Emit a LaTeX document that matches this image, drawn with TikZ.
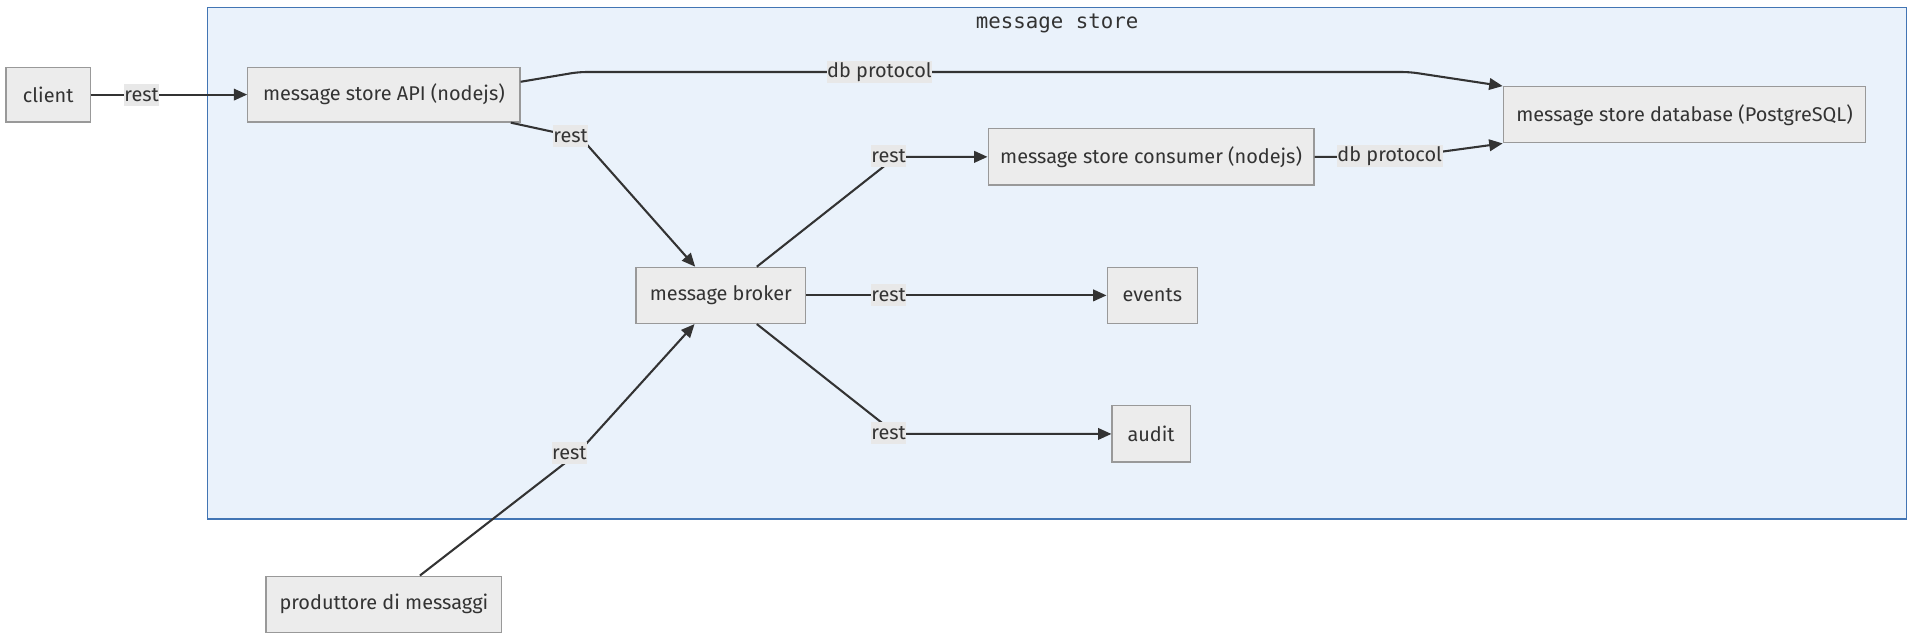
\documentclass[tikz,border=0pt]{standalone}
\usepackage{fontspec}
\setmainfont{Fira Sans}
\newfontfamily\monofont{DejaVu Sans Mono}
\usetikzlibrary{arrows.meta}
\definecolor{nodefill}{RGB}{236,236,236}
\definecolor{nodeline}{RGB}{153,153,153}
\definecolor{clusterfill}{RGB}{234,242,251}
\definecolor{clusterline}{RGB}{66,117,180}
\definecolor{edgecol}{RGB}{51,51,51}
\definecolor{labelfill}{RGB}{232,232,232}
\definecolor{textcol}{RGB}{51,51,51}
\tikzset{
  boxnode/.style={draw=nodeline, fill=nodefill, line width=1pt, text=textcol,
    font=\fontsize{16.3}{19}\selectfont, inner sep=0pt, minimum height=46pt},
  elabel/.style={fill=labelfill, text=textcol, font=\fontsize{16.3}{19}\selectfont,
    inner xsep=0.5pt, inner ysep=0pt, minimum height=18pt},
  edge/.style={draw=edgecol, line width=1.7pt, rounded corners=6pt,
    -{Triangle[length=11pt,width=9.5pt]}},
  clusterbox/.style={draw=clusterline, fill=clusterfill, line width=1.2pt},
}
\begin{document}
\begin{tikzpicture}[x=1pt,y=-1pt]
\useasboundingbox (0,0) rectangle (1568,524);
% cluster
\draw[clusterbox] (170,6) rectangle (1562,425);
\node[text=textcol, font=\monofont\fontsize{17}{20}\selectfont] (title) at (866,19.5) {message store};
% nodes
\node[boxnode, minimum width=69pt, minimum height=45pt] (client) at (39.5,77.5) {client};
\node[boxnode, minimum width=223pt, minimum height=45pt] (api) at (314.5,77.5) {message store API (nodejs)};
\node[boxnode, minimum width=297pt] (db) at (1380,94) {message store database (PostgreSQL)};
\node[boxnode, minimum width=267pt] (cons) at (943,128.5) {message store consumer (nodejs)};
\node[boxnode, minimum width=139pt] (broker) at (590.5,242) {message broker};
\node[boxnode, minimum width=74pt] (events) at (944,242) {events};
\node[boxnode, minimum width=64pt] (audit) at (943,355.5) {audit};
\node[boxnode, minimum width=193pt] (prod) at (314.5,495) {produttore di messaggi};
% bend coordinates
\coordinate (c2a) at (474,59);
\coordinate (c2b) at (1155,59);
\coordinate (c3) at (476,113);
\coordinate (c4) at (734,128.5);
\coordinate (c5) at (1150,128.5);
\coordinate (c7) at (734,355.5);
\coordinate (c8) at (473,371.5);
% edges
\draw[edge] (client.east) -- (api.west);
\draw[edge] ([yshift=10.5pt]api.east) -- (c2a) -- (c2b) -- (db.north west);
\draw[edge, rounded corners=0pt] ([xshift=-8pt]api.south east) -- (c3) -- ([xshift=-21pt]broker.north);
\draw[edge] ([xshift=29.5pt]broker.north) -- (c4) -- (cons.west);
\draw[edge] (cons.east) -- (c5) -- (db.south west);
\draw[edge] (broker.east) -- (events.west);
\draw[edge] ([xshift=29.5pt]broker.south) -- (c7) -- (audit.west);
\draw[edge, rounded corners=0pt] ([xshift=29.5pt]prod.north) -- (c8) -- ([xshift=-21.5pt]broker.south);
% edge labels
\node[elabel] (l1) at (116,77.5) {rest};
\node[elabel] (l2) at (720.5,59) {db protocol};
\node[elabel] (l3) at (467.5,111.5) {rest};
\node[elabel] (l4) at (728,128) {rest};
\node[elabel] (l5) at (1138.5,128) {db protocol};
\node[elabel] (l6) at (728,242) {rest};
\node[elabel] (l7) at (728,355) {rest};
\node[elabel] (l8) at (466.5,371) {rest};
\end{tikzpicture}
\end{document}
